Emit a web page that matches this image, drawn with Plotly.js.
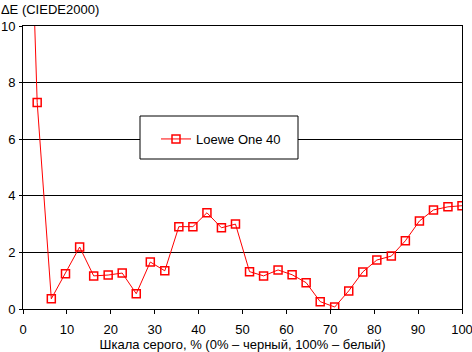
<!DOCTYPE html>
<html><head><meta charset="utf-8">
<script src="https://cdn.plot.ly/plotly-3.0.1.min.js"></script>
<style>html,body{margin:0;padding:0;background:#fff}#chart{width:472px;height:352px}</style>
</head><body><div id="chart"></div>
<script>
const grayLevels = [0,3.23,6.45,9.68,12.9,16.1,19.4,22.6,25.8,29.0,32.3,35.5,38.7,41.9,45.2,48.4,51.6,54.8,58.1,61.3,64.5,67.7,71.0,74.2,77.4,80.6,83.9,87.1,90.3,93.5,96.8,100];
const deltaE = [23,7.3,0.36,1.25,2.19,1.17,1.2,1.27,0.54,1.66,1.35,2.91,2.91,3.40,2.87,3.0,1.32,1.17,1.38,1.21,0.93,0.26,0.07,0.64,1.31,1.73,1.87,2.41,3.11,3.50,3.61,3.65];
const seriesName = 'Loewe One 40';
const xTicks = [0,10,20,30,40,50,60,70,80,90,100];
const yTicks = [0,2,4,6,8,10];

const L = 23, R = 462, T = 26, B = 309;
const px = v => (v - L) / (R - L);
const py = v => (B - v) / (B - T);
const font = {family:'Liberation Sans, Arial, sans-serif', size:13, color:'#000'};
Plotly.newPlot('chart', [{
  x: grayLevels, y: deltaE, name: seriesName, type:'scatter', mode:'lines+markers',
  line:{color:'#ff0000', width:1},
  marker:{symbol:'square-open', size:8, color:'#ff0000', line:{width:1.5, color:'#ff0000'}},
  showlegend:true
}], {
  width:472, height:352,
  margin:{l:L, r:472-R, t:T, b:352-B, pad:0},
  paper_bgcolor:'#fff', plot_bgcolor:'#fff',
  font: font,
  title:{text:'ΔE (CIEDE2000)', font:font, xref:'container', x:0.002, xanchor:'left', yref:'container', y:1-9/352, yanchor:'middle'},
  xaxis:{range:[0,100], tickvals:xTicks, ticktext:xTicks.map(String), showgrid:false, zeroline:false,
    showline:true, linecolor:'#000', linewidth:1, mirror:true,
    ticks:'outside', ticklen:4, tickcolor:'#000', tickfont:font, ticklabelstandoff:4, ticklabeloverflow:'allow',
    title:{text:'Шкала серого, % (0% – черный, 100% – белый)', font:font, standoff:4}},
  yaxis:{range:[0,10], tickvals:yTicks, ticktext:yTicks.map(String), showgrid:true, gridcolor:'#000', gridwidth:1, zeroline:false,
    showline:true, linecolor:'#000', linewidth:1, mirror:true,
    ticks:'outside', ticklen:3, tickcolor:'#000', tickfont:font, ticklabelstandoff:1, ticklabeloverflow:'allow'},
  shapes:[{type:'rect', xref:'paper', yref:'paper', x0:px(140), x1:px(298), y0:py(159), y1:py(116),
    fillcolor:'#fff', line:{color:'#000', width:1}, layer:'above'}],
  showlegend:true,
  legend:{x:px(156), y:py(124), xanchor:'left', yanchor:'top', bgcolor:'rgba(0,0,0,0)', borderwidth:0, font:font, itemwidth:30}
}, {displayModeBar:false, staticPlot:true});
</script></body></html>
